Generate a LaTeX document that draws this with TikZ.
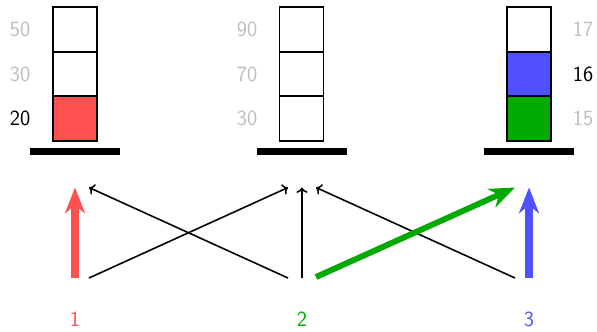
\documentclass[tikz,border=0pt]{standalone}
\usepackage{tikz}
\definecolor{pgred}{RGB}{255,80,80}
\definecolor{pggreen}{RGB}{0,170,0}
\definecolor{pgblue}{RGB}{80,80,255}
\definecolor{pggray}{RGB}{190,190,190}
\usetikzlibrary{arrows.meta}

\begin{document}
\begin{tikzpicture}[x=0.03cm, y=0.03cm,
  cell/.style={draw=black, line width=1.6pt, minimum width=1.32cm, minimum height=1.34cm, inner sep=0pt},
  val/.style={font=\fontsize{18.5}{22}\selectfont\sffamily, text=pggray, inner sep=0pt},
  thinarrow/.style={-{To}, line width=1.35pt},
  fatarrow/.style={-{Stealth[length=22pt, width=17pt, inset=7pt]}, line width=6pt}]
  \useasboundingbox (0,0) rectangle (597,331);

  %--- Left stack ---
  \node[cell, fill=pgred] (l1) at (75,212.3) {};
  \node[cell] (l2) at (75,257) {};
  \node[cell] (l3) at (75,301.7) {};
  \fill[black] (30,176) rectangle (120,183);
  \node[val, text=black] (l1v) at (20,212.3) {20};
  \node[val] (l2v) at (20,257) {30};
  \node[val] (l3v) at (20,301.7) {50};

  %--- Middle stack ---
  \node[cell] (m1) at (301.5,212.3) {};
  \node[cell] (m2) at (301.5,257) {};
  \node[cell] (m3) at (301.5,301.7) {};
  \fill[black] (257,176) rectangle (347,183);
  \node[val] (m1v) at (247,212.3) {30};
  \node[val] (m2v) at (247,257) {70};
  \node[val] (m3v) at (247,301.7) {90};

  %--- Right stack ---
  \node[cell, fill=pggreen] (r1) at (529,212.3) {};
  \node[cell, fill=pgblue] (r2) at (529,257) {};
  \node[cell] (r3) at (529,301.7) {};
  \fill[black] (484,176) rectangle (574,183);
  \node[val] (r1v) at (583,212.3) {15};
  \node[val, text=black] (r2v) at (583,257) {16};
  \node[val] (r3v) at (583,301.7) {17};

  %--- Process labels ---
  \node[val, text=pgred] (p1) at (75,12) {1};
  \node[val, text=pggreen] (p2) at (302,12) {2};
  \node[val, text=pgblue] (p3) at (529,12) {3};

  % Arrow ends
  \coordinate (b1) at (75,53);    \coordinate (t1) at (75,143.5);
  \coordinate (b1r) at (89,53);   \coordinate (t1r) at (89,143.5);
  \coordinate (b2l) at (288,53);  \coordinate (t2l) at (288,143.5);
  \coordinate (b2) at (302,53);   \coordinate (t2) at (302,143.5);
  \coordinate (b2r) at (316,54);  \coordinate (t2r) at (316,143.5);
  \coordinate (b3l) at (515,53);  \coordinate (t3l) at (515,143.5);
  \coordinate (b3) at (529,53);   \coordinate (t3) at (529,143.5);

  \draw[thinarrow] (b1r) -- (t2l);
  \draw[thinarrow] (b2l) -- (t1r);
  \draw[thinarrow] (b2) -- (t2);
  \draw[thinarrow] (b3l) -- (t2r);
  \draw[fatarrow, pgred] (b1) -- (t1);
  \draw[fatarrow, pggreen, line width=5pt] (b2r) -- (t3l);
  \draw[fatarrow, pgblue] (b3) -- (t3);
\end{tikzpicture}
\end{document}
